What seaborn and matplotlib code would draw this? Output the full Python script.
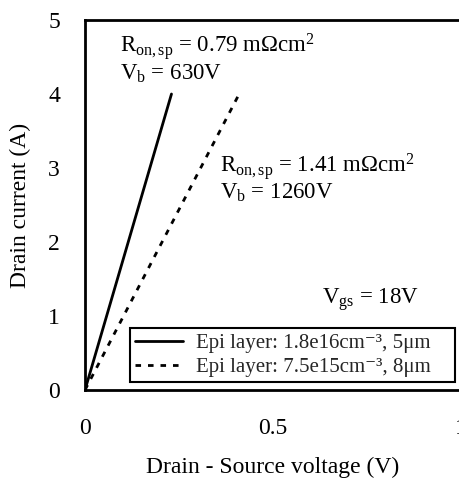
import numpy as np
import pandas as pd
import matplotlib
matplotlib.use("Agg")
import matplotlib.pyplot as plt
import seaborn as sns
from matplotlib.lines import Line2D

# ---- data ----
series_names = ["Epi layer: 1.8e16cm\u207b\u00b3, 5\u03bcm",
                "Epi layer: 7.5e15cm\u207b\u00b3, 8\u03bcm"]
solid_x = [0.0, 0.23]
solid_y = [0.0, 4.0]
dashed_x = [0.0, 0.41]
dashed_y = [0.0, 4.0]
x_ticks = [0, 0.5, 1]
x_tick_labels = ["0", "0.5", "1"]
y_ticks = [0, 1, 2, 3, 4, 5]

sns.set_theme(style="white")
plt.rcParams["font.family"] = ["Liberation Serif", "DejaVu Serif"]
plt.rcParams["mathtext.fontset"] = "custom"
plt.rcParams["mathtext.rm"] = "Liberation Serif"
plt.rcParams["mathtext.it"] = "Liberation Serif:italic"

df = pd.DataFrame({
    "x": solid_x + dashed_x,
    "y": solid_y + dashed_y,
    "series": [series_names[0]] * len(solid_x) + [series_names[1]] * len(dashed_x),
})

fig = plt.figure(figsize=(4.59, 4.82), dpi=100)
ax = fig.add_axes([85 / 459, 92 / 482, 376 / 459, 370 / 482])

sns.lineplot(data=df, x="x", y="y", style="series", color="black",
             dashes={series_names[0]: "", series_names[1]: (2, 2.5)},
             linewidth=2, ax=ax, legend=False, estimator=None, sort=False)

ax.set_xlim(0, 1)
ax.set_ylim(0, 5)
ax.set_xticks(x_ticks)
ax.set_xticklabels(x_tick_labels)
ax.set_yticks(y_ticks)
ax.tick_params(direction="in", length=5, width=1, colors="black",
               labelsize=17)
ax.tick_params(axis="x", pad=20)
ax.tick_params(axis="y", pad=18)
for s in ["left", "bottom", "top"]:
    ax.spines[s].set_color("black")
    ax.spines[s].set_linewidth(2)
ax.spines["right"].set_visible(False)

ax.set_xlabel("Drain - Source voltage (V)", fontsize=17, color="black", labelpad=13)
ax.set_ylabel("Drain current (A)", fontsize=17, color="black", labelpad=12)

fs = 16.5
ax.text(0.093, 4.56, "R$_{\\rm on,sp}$ = 0.79 m\u03a9cm$^{\\rm 2}$", fontsize=fs, color="black")
ax.text(0.093, 4.19, "V$_{\\rm b}$ = 630V", fontsize=fs, color="black")
ax.text(0.359, 2.94, "R$_{\\rm on,sp}$ = 1.41 m\u03a9cm$^{\\rm 2}$", fontsize=fs, color="black")
ax.text(0.359, 2.58, "V$_{\\rm b}$ = 1260V", fontsize=fs, color="black")
ax.text(0.63, 1.17, "V$_{\\rm gs}$ = 18V", fontsize=fs, color="black")

handles = [Line2D([], [], color="black", lw=2),
           Line2D([], [], color="black", lw=2, dashes=(2, 2.5))]
leg = ax.legend(handles, series_names, loc="lower left",
                bbox_to_anchor=(0.12, 0.0216, 0.864, 0.16), mode="expand",
                fontsize=15, frameon=True, fancybox=False, framealpha=1,
                handlelength=2.3, handletextpad=0.6, borderpad=0.25,
                labelspacing=0.2, borderaxespad=0)
leg.get_frame().set_edgecolor("black")
leg.get_frame().set_linewidth(1.5)

fig.savefig("out.png", dpi=100)
